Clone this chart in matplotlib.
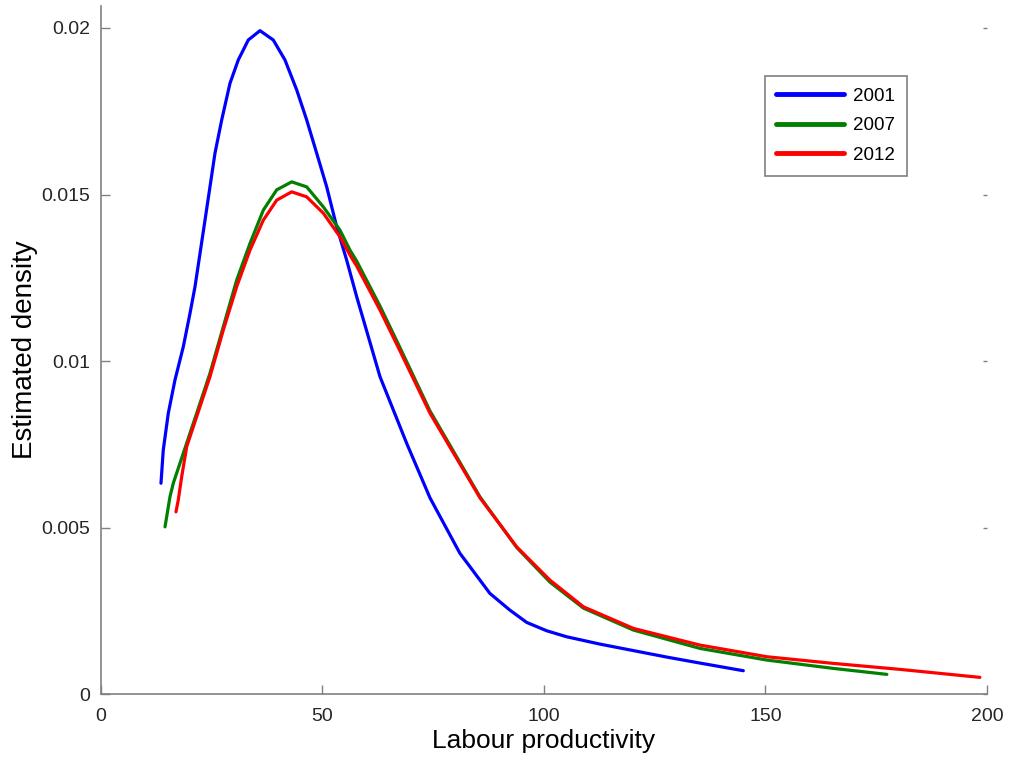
from matplotlib import pyplot as plt
import numpy as np

# values
x_2001 = [13.54, 14.06, 15.19, 16.70, 18.58, 20.09, 21.22, 22.35, 23.48, 24.60, 25.73,
          27.25, 29.12, 30.99, 33.25, 35.89, 38.89, 41.53, 44.18, 46.43, 48.69, 50.95,
          53.21, 55.46, 57.72, 62.98, 69.0, 74.27, 81.0, 87.8, 92.3, 96.1, 100.6,
          105.1, 112.6, 127.7, 135.2, 145.0]
y_2001 = [0.00633, 0.00733, 0.00843, 0.00943, 0.01043, 0.01143, 0.01223, 0.01323, 0.01423,
          0.01523, 0.01624, 0.01724, 0.01834, 0.01904, 0.01964, 0.01992, 0.01964, 0.01904,
          0.01814, 0.01724, 0.01624, 0.01523, 0.01403, 0.01303, 0.01193, 0.00953, 0.00753,
          0.00589, 0.00423, 0.00302, 0.00252, 0.00215, 0.00190, 0.00172, 0.00150,
          0.00111, 0.00093, 0.00070]

x_2007 = [14.45, 15.58, 16.32, 18.58, 21.60, 24.60, 27.61, 30.63, 33.63, 36.64, 39.66,
          43.05, 46.43, 50.18, 53.95, 56.21, 57.72, 62.98, 67.5, 74.27, 85.55, 93.84,
          101.35, 108.9, 120.2, 135.2, 150.3, 165.3, 177.4]
y_2007 = [0.00502, 0.00593, 0.00633, 0.00723, 0.00843, 0.00963, 0.01103, 0.01243, 0.01353,
          0.01453, 0.01514, 0.01538, 0.01523, 0.01463, 0.01393, 0.01333, 0.01300, 0.01165,
          0.01040, 0.00850, 0.00592, 0.00440, 0.00336, 0.00258, 0.00192, 0.00137,
          0.00102, 0.00077, 0.00059]

x_2012 = [16.93, 17.45, 18.22, 19.35, 21.60, 24.60, 27.61, 30.63, 33.63, 36.64, 39.66,
          43.05, 46.43, 50.18, 53.95, 56.21, 57.72, 62.98, 67.5, 74.27, 85.55, 93.84,
          101.35, 108.9, 120.2, 135.2, 150.3, 165.3, 180.4, 198.4]
y_2012 = [0.00547, 0.00583, 0.00653, 0.00743, 0.00833, 0.00953, 0.01093, 0.01223, 0.01333,
          0.01423, 0.01483, 0.01508, 0.01493, 0.01444, 0.01373, 0.01318, 0.01285, 0.01153,
          0.01030, 0.00843, 0.00589, 0.00442, 0.00342, 0.00262, 0.00197, 0.00147,
          0.00112, 0.00092, 0.00074, 0.00050]

years = ["2001", "2007", "2012"]
colors = ["#0000ff", "#008000", "#ff0000"]

plt.rcParams["font.family"] = ["Liberation Sans", "DejaVu Sans"]

fig = plt.figure(figsize=(10.13, 7.62), dpi=100)
ax = fig.add_axes([0.0997, 0.0892, 0.8746, 0.9029])

for xs, ys, c, lab in zip([x_2001, x_2007, x_2012], [y_2001, y_2007, y_2012], colors, years):
    ax.plot(xs, ys, color=c, lw=2.3, label=lab, solid_capstyle="round", solid_joinstyle="round")

ax.set_xlim(0, 200)
ax.set_ylim(0, 0.02066)
ax.set_xticks([0, 50, 100, 150, 200])
ax.set_yticks([0, 0.005, 0.01, 0.015, 0.02])
ax.set_yticklabels(["0", "0.005", "0.01", "0.015", "0.02"])

for s in ["top", "right"]:
    ax.spines[s].set_visible(False)
for s in ["left", "bottom"]:
    ax.spines[s].set_color("#808080")
    ax.spines[s].set_linewidth(1.2)

ax.tick_params(axis="both", direction="in", length=6.5, width=1, color="#808080",
               labelsize=14, labelcolor="#262626")
ax.tick_params(axis="x", pad=10)
ax.tick_params(axis="y", pad=8)
ax.tick_params(axis="y", which="major", right=True, labelright=False)
for t in ax.yaxis.get_major_ticks():
    t.tick2line.set_color("#d8d8d8")
    t.tick2line.set_markersize(3)

ax.set_xlabel("Labour productivity", fontsize=19, labelpad=3)
ax.set_ylabel("Estimated density", fontsize=20, labelpad=2)

leg = ax.legend(loc="upper left", bbox_to_anchor=(0.749, 0.898), borderaxespad=0,
                fontsize=13.5, handlelength=3.6, handletextpad=0.5, labelspacing=0.66,
                borderpad=0.62, fancybox=False, framealpha=1, edgecolor="#808080")
leg.get_frame().set_linewidth(1.2)
for line in leg.get_lines():
    line.set_linewidth(3.5)

fig.savefig("out.png", dpi=100)
